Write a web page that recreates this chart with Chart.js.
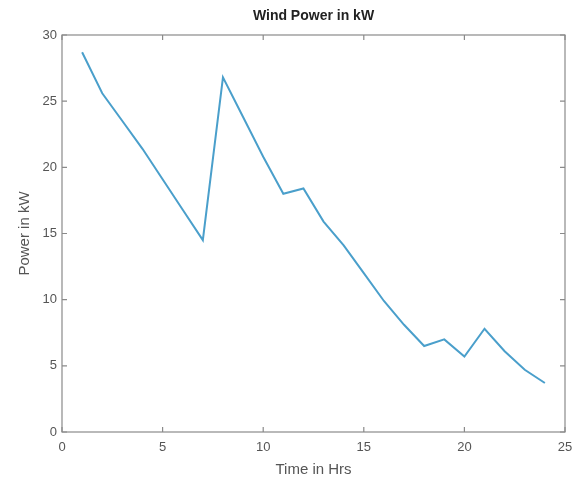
<!DOCTYPE html>
<html>
<head>
<meta charset="utf-8">
<script src="https://cdn.jsdelivr.net/npm/chart.js@4"></script>
<style>
  html, body { margin: 0; padding: 0; background: #fff; }
  #wrap { width: 574px; height: 479px; }
</style>
</head>
<body>
<div id="wrap"><canvas id="windChart"></canvas></div>
<script>
// hourly readings
const hours = [1, 2, 3, 4, 5, 6, 7, 8, 9, 10, 11, 12, 13, 14, 15, 16, 17, 18, 19, 20, 21, 22, 23, 24];
const powerKW = [28.7, 25.6, 23.5, 21.4, 19.1, 16.8, 14.5, 26.8, 23.8, 20.8, 18.0, 18.4,
                 15.9, 14.1, 12.0, 9.9, 8.1, 6.5, 7.0, 5.7, 7.8, 6.1, 4.7, 3.7];
const xTicks = [0, 5, 10, 15, 20, 25];
const yTicks = [0, 5, 10, 15, 20, 25, 30];
const chartTitle = "Wind Power in kW";

const axisColor = "#8a8a8a";
const textColor = "#555";
const fontFamily = "Liberation Sans, Arial, sans-serif";

// box around the plot with inward tick marks on all four sides,
// plus the title centred over the plot area
const boxAxes = {
    id: "boxAxes",
    afterDatasetsDraw(chart) {
        const { ctx, chartArea: a, scales } = chart;
        ctx.save();
        ctx.strokeStyle = axisColor;
        ctx.lineWidth = 1.2;
        ctx.strokeRect(a.left, a.top, a.right - a.left, a.bottom - a.top);
        const len = 5;
        ctx.beginPath();
        xTicks.forEach(v => {
            const px = scales.x.getPixelForValue(v);
            ctx.moveTo(px, a.bottom); ctx.lineTo(px, a.bottom - len);
            ctx.moveTo(px, a.top); ctx.lineTo(px, a.top + len);
        });
        yTicks.forEach(v => {
            const py = scales.y.getPixelForValue(v);
            ctx.moveTo(a.left, py); ctx.lineTo(a.left + len, py);
            ctx.moveTo(a.right, py); ctx.lineTo(a.right - len, py);
        });
        ctx.stroke();

        ctx.fillStyle = "#222";
        ctx.font = "bold 14px " + fontFamily;
        ctx.textAlign = "center";
        ctx.textBaseline = "middle";
        ctx.fillText(chartTitle, (a.left + a.right) / 2, a.top - 19);
        ctx.restore();
    }
};

new Chart(document.getElementById("windChart"), {
    type: "line",
    data: {
        datasets: [{
            data: hours.map((h, i) => ({ x: h, y: powerKW[i] })),
            borderColor: "#4a9fcb",
            borderWidth: 2,
            pointRadius: 0,
            tension: 0,
            fill: false
        }]
    },
    options: {
        responsive: true,
        maintainAspectRatio: false,
        animation: false,
        layout: { padding: { left: 0, right: 9, top: 35, bottom: 0 } },
        plugins: {
            legend: { display: false },
            tooltip: { enabled: false },
            title: { display: false }
        },
        scales: {
            x: {
                type: "linear",
                min: 0,
                max: 25,
                afterBuildTicks: s => { s.ticks = xTicks.map(v => ({ value: v })); },
                afterFit: s => { s.height = 47; s.paddingLeft = 0; s.paddingRight = 0; },
                grid: { display: false, drawTicks: false },
                border: { display: false },
                ticks: {
                    color: textColor,
                    padding: 8,
                    font: { family: fontFamily, size: 13 }
                },
                title: {
                    display: true,
                    text: "Time in Hrs",
                    color: textColor,
                    padding: { top: 0, bottom: 0 },
                    font: { family: fontFamily, size: 15 }
                }
            },
            y: {
                type: "linear",
                min: 0,
                max: 30,
                afterBuildTicks: s => { s.ticks = yTicks.map(v => ({ value: v })); },
                afterFit: s => { s.width = 62; s.paddingTop = 0; s.paddingBottom = 0; },
                grid: { display: false, drawTicks: false },
                border: { display: false },
                ticks: {
                    color: textColor,
                    padding: 5,
                    font: { family: fontFamily, size: 13 }
                },
                title: {
                    display: true,
                    text: "Power in kW",
                    color: textColor,
                    padding: { top: 16, bottom: 0 },
                    font: { family: fontFamily, size: 15 }
                }
            }
        }
    },
    plugins: [boxAxes]
});
</script>
</body>
</html>
